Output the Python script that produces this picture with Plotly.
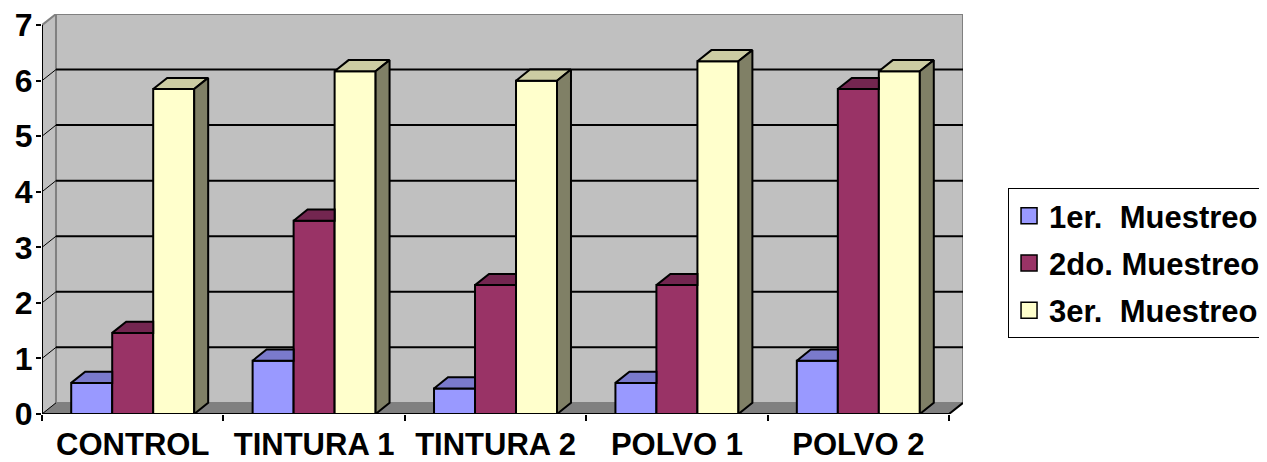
import plotly.graph_objects as go

# ---------------- data ----------------
categories = ["CONTROL", "TINTURA 1", "TINTURA 2", "POLVO 1", "POLVO 2"]
series_names = ["1er.\u00a0 Muestreo", "2do. Muestreo", "3er.\u00a0 Muestreo"]
muestreo_1 = [0.56, 0.96, 0.46, 0.56, 0.96]
muestreo_2 = [1.46, 3.48, 2.32, 2.32, 5.85]
muestreo_3 = [5.85, 6.17, 6.00, 6.35, 6.17]
y_tick_values = [0, 1, 2, 3, 4, 5, 6, 7]

# ---------------- style ----------------
front_colors = ["#9999FF", "#993366", "#FFFFCC"]
top_colors = ["#7A7ACC", "#732650", "#CCCCA3"]
side_colors = ["#6B6BB3", "#5C1F3D", "#808066"]
WALL = "#C0C0C0"
FLOOR = "#808080"
EDGE_GRAY = "#808080"
FAMILY = "Liberation Sans, Arial, sans-serif"
FONT = dict(family=FAMILY, size=31, color="black", weight="bold")
YFONT = dict(family=FAMILY, size=32, color="black", weight="bold")

DX = 0.077   # depth offset in category units
DY = 0.20    # depth offset in value units
BARGAP = 0.322

series = [muestreo_1, muestreo_2, muestreo_3]
n_cat = len(categories)
n_ser = len(series)
x_idx = list(range(n_cat))
y_max = y_tick_values[-1]
x_lo, x_hi = -0.5, n_cat - 0.5

fig = go.Figure()

# front faces (bars)
for s, vals in enumerate(series):
    fig.add_trace(go.Bar(
        x=x_idx, y=vals, name=series_names[s],
        marker=dict(color=front_colors[s], line=dict(color="black", width=2)),
        showlegend=False, hoverinfo="skip"))

# top and side faces
group_w = 1 - BARGAP
bar_w = group_w / n_ser
for c in x_idx:
    for s, vals in enumerate(series):
        v = vals[c]
        xl = c - group_w / 2 + s * bar_w
        xr = xl + bar_w
        nxt = series[s + 1][c] if s + 1 < n_ser else None
        if nxt is not None and nxt > v + DY:
            tx = [xl, xr, xr, xl + DX, xl]
            ty = [v, v, v + DY, v + DY, v]
            side = False
        else:
            tx = [xl, xr, xr + DX, xl + DX, xl]
            ty = [v, v, v + DY, v + DY, v]
            side = True
        fig.add_trace(go.Scatter(
            x=tx, y=ty, mode="lines", fill="toself", fillcolor=top_colors[s],
            line=dict(color="black", width=2), showlegend=False, hoverinfo="skip"))
        if side:
            fig.add_trace(go.Scatter(
                x=[xr, xr + DX, xr + DX, xr, xr], y=[0, DY, v + DY, v, 0],
                mode="lines", fill="toself", fillcolor=side_colors[s],
                line=dict(color="black", width=2), showlegend=False, hoverinfo="skip"))

# legend entries
for s in range(n_ser):
    fig.add_trace(go.Scatter(
        x=[None], y=[None], mode="markers", name=series_names[s], legendgroup=f"g{s}",
        marker=dict(symbol="square", size=16, color=front_colors[s],
                    line=dict(color="black", width=1.5))))

# ---------------- walls, floor, gridlines (shapes below traces) ----------------
def path(pts, close=True):
    d = "M " + " L ".join(f"{x},{y}" for x, y in pts)
    return d + (" Z" if close else "")

shapes = []
shapes.append(dict(type="rect", xref="x", yref="y", x0=x_lo + DX, x1=x_hi + DX, y0=DY, y1=y_max + DY,
                   fillcolor=WALL, line=dict(color=EDGE_GRAY, width=2), layer="below"))
shapes.append(dict(type="path", xref="x", yref="y",
                   path=path([(x_lo, 0), (x_lo + DX, DY), (x_lo + DX, y_max + DY), (x_lo, y_max)]),
                   fillcolor=WALL, line=dict(width=0), layer="below"))
shapes.append(dict(type="line", xref="x", yref="y", x0=x_lo + DX, x1=x_lo + DX, y0=DY, y1=y_max + DY,
                   line=dict(color=EDGE_GRAY, width=2), layer="below"))
shapes.append(dict(type="line", xref="x", yref="y", x0=x_lo, x1=x_lo + DX, y0=y_max, y1=y_max + DY,
                   line=dict(color=EDGE_GRAY, width=2), layer="below"))
shapes.append(dict(type="path", xref="x", yref="y",
                   path=path([(x_lo, 0), (x_hi, 0), (x_hi + DX, DY), (x_lo + DX, DY)]),
                   fillcolor=FLOOR, line=dict(color=EDGE_GRAY, width=1), layer="below"))
for v in y_tick_values[1:-1]:
    shapes.append(dict(type="line", xref="x", yref="y", x0=x_lo + DX, x1=x_hi + DX, y0=v + DY, y1=v + DY,
                       line=dict(color="black", width=2), layer="below"))
    shapes.append(dict(type="line", xref="x", yref="y", x0=x_lo, x1=x_lo + DX, y0=v, y1=v + DY,
                       line=dict(color="black", width=1), layer="below"))
shapes.append(dict(type="line", xref="x", yref="y", x0=x_lo, x1=x_lo + DX, y0=0, y1=DY,
                   line=dict(color="black", width=1), layer="below"))
shapes.append(dict(type="path", xref="x", yref="y",
                   path=path([(x_lo, y_max), (x_lo, 0), (x_hi, 0), (x_hi + DX, DY)], close=False),
                   line=dict(color="black", width=2), layer="below"))

# page body has an 8px margin, so the figure is sized to sit inside the window
fig.update_layout(
    width=1259, height=454,
    margin=dict(l=34, r=304, t=6, b=48, autoexpand=False),
    paper_bgcolor="white", plot_bgcolor="white",
    barmode="group", bargap=BARGAP, bargroupgap=0,
    shapes=shapes,
    font=FONT,
    showlegend=True,
    legend=dict(x=1.0489, xanchor="left", y=0.565, yanchor="top",
                bgcolor="white", bordercolor="black", borderwidth=1,
                font=FONT, tracegroupgap=4, traceorder="grouped"),
)
fig.update_xaxes(
    range=[x_lo, x_hi + DX], showgrid=False, zeroline=False, showline=False,
    tickmode="array", tickvals=x_idx, ticktext=categories, ticks="",
    tickfont=FONT, ticklabelstandoff=9, ticklabeloverflow="allow",
    minor=dict(tickmode="array", tickvals=[i - 0.5 for i in range(n_cat + 1)],
               ticks="outside", ticklen=6, tickwidth=2, tickcolor="black", showgrid=False),
)
fig.update_yaxes(
    range=[0, y_max + DY], showgrid=False, zeroline=False, showline=False,
    tickmode="array", tickvals=y_tick_values, ticks="outside", ticklen=5,
    tickwidth=2, tickcolor="black", tickfont=YFONT, ticklabelstandoff=-3,
    ticklabeloverflow="allow",
)

fig.write_html("out.html")
